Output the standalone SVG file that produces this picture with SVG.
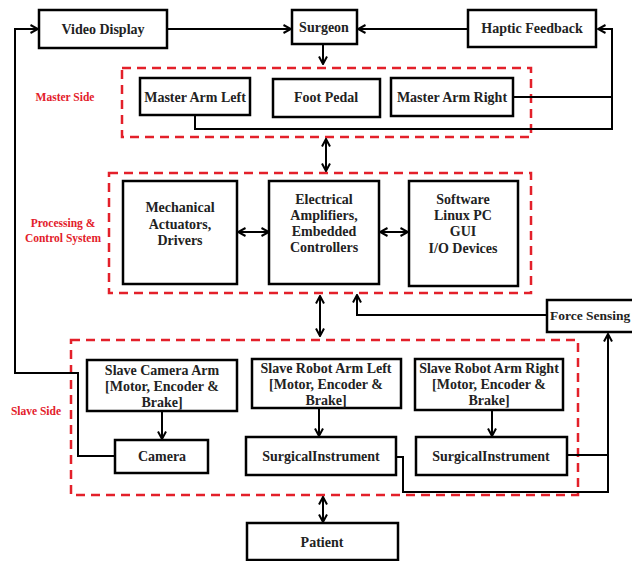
<svg xmlns="http://www.w3.org/2000/svg" width="632" height="561" viewBox="0 0 632 561">
<style>
.box{fill:#fff;stroke:#000;stroke-width:2.5}
.grp{fill:none;stroke:#e3202a;stroke-width:2.5;stroke-dasharray:9 6}
.t{font-family:"Liberation Serif","Times New Roman",serif;font-weight:bold;font-size:14px;fill:#222;text-anchor:middle}
.lbl{font-family:"Liberation Serif","Times New Roman",serif;font-weight:bold;font-size:11.5px;fill:#e3202a;text-anchor:middle}
.c{fill:none;stroke:#000;stroke-width:2}
.a{marker-end:url(#ah)}
.d{marker-start:url(#ah);marker-end:url(#ah)}
</style>
<defs>
<marker id="ah" viewBox="0 0 10 10" refX="9" refY="5" markerWidth="10" markerHeight="10" markerUnits="userSpaceOnUse" orient="auto-start-reverse">
<path d="M1.5,1 L9,5 L1.5,9" fill="none" stroke="#000" stroke-width="2"/>
</marker>
</defs>
<rect width="632" height="561" fill="#fff"/>

<g id="groups">
<rect class="grp" x="122" y="68" width="409" height="69"/>
<text class="lbl" x="65" y="101" font-size="12">Master Side</text>
<rect class="grp" x="109" y="173" width="422" height="120"/>
<text class="lbl" x="63" y="227">Processing &amp;</text>
<text class="lbl" x="63" y="242">Control System</text>
<rect class="grp" x="71" y="340" width="507" height="155"/>
<text class="lbl" x="36" y="415">Slave Side</text>
</g>

<g id="connectors">
<path class="c a" d="M167,29 H291"/>
<path class="c a" d="M468,29 H358"/>
<path class="c a" d="M323,44 V64"/>
<path class="c d" d="M326,139 V171"/>
<path class="c a" d="M513,97 H612 V29 H598"/>
<path class="c" d="M195,115 V129 H612 V97"/>
<path class="c d" d="M238,232 H269"/>
<path class="c d" d="M380,232 H408"/>
<path class="c d" d="M320,296 V336"/>
<path class="c a" d="M547,315 H357 V295"/>
<path class="c a" d="M115,456 H78 V373 H15 V29 H38"/>
<path class="c a" d="M162,411 V439"/>
<path class="c a" d="M319,408 V436"/>
<path class="c a" d="M492,410 V436"/>
<path class="c" d="M567,455 H608"/>
<path class="c a" d="M396,457 H403 V492 H608 V334"/>
<path class="c d" d="M323,497 V522"/>
</g>

<g id="video-display"><rect class="box" x="39" y="10" width="128" height="38"/><text class="t" x="103" y="34">Video Display</text></g>
<g id="surgeon"><rect class="box" x="292" y="10" width="65" height="34"/><text class="t" x="324" y="32">Surgeon</text></g>
<g id="haptic-feedback"><rect class="box" x="468" y="10" width="128" height="37"/><text class="t" x="532" y="33">Haptic Feedback</text></g>

<g id="master-arm-left"><rect class="box" x="140" y="78" width="110" height="37"/><text class="t" x="195" y="102">Master Arm Left</text></g>
<g id="foot-pedal"><rect class="box" x="273" y="79" width="107" height="38"/><text class="t" x="326" y="102">Foot Pedal</text></g>
<g id="master-arm-right"><rect class="box" x="391" y="78" width="122" height="38"/><text class="t" x="452" y="102">Master Arm Right</text></g>

<g id="mechanical"><rect class="box" x="123" y="181" width="114" height="103"/><text class="t" x="180" y="212">Mechanical</text><text class="t" x="180" y="229">Actuators,</text><text class="t" x="180" y="245">Drivers</text></g>
<g id="electrical"><rect class="box" x="269" y="181" width="110" height="103"/><text class="t" x="324" y="204">Electrical</text><text class="t" x="324" y="220">Amplifiers,</text><text class="t" x="324" y="236">Embedded</text><text class="t" x="324" y="252">Controllers</text></g>
<g id="software"><rect class="box" x="409" y="181" width="109" height="105"/><text class="t" x="463" y="204">Software</text><text class="t" x="463" y="220">Linux PC</text><text class="t" x="463" y="236">GUI</text><text class="t" x="463" y="253">I/O Devices</text></g>

<g id="force-sensing"><rect class="box" x="547" y="300" width="95" height="32"/><text class="t" x="550" y="320" style="text-anchor:start;font-size:13.5px">Force Sensing</text></g>

<g id="slave-camera-arm"><rect class="box" x="87" y="360" width="150" height="51"/><text class="t" x="162" y="375">Slave Camera Arm</text><text class="t" x="162" y="391">[Motor, Encoder &amp;</text><text class="t" x="162" y="407">Brake]</text></g>
<g id="slave-robot-arm-left"><rect class="box" x="252" y="359" width="149" height="49"/><text class="t" x="326" y="373">Slave Robot Arm Left</text><text class="t" x="326" y="389">[Motor, Encoder &amp;</text><text class="t" x="326" y="405">Brake]</text></g>
<g id="slave-robot-arm-right"><rect class="box" x="415" y="359" width="148" height="51"/><text class="t" x="489" y="373">Slave Robot Arm Right</text><text class="t" x="489" y="389">[Motor, Encoder &amp;</text><text class="t" x="489" y="405">Brake]</text></g>

<g id="camera"><rect class="box" x="115" y="440" width="93" height="33"/><text class="t" x="162" y="461">Camera</text></g>
<g id="surgical-instrument-left"><rect class="box" x="246" y="437" width="150" height="38"/><text class="t" x="321" y="461">SurgicalInstrument</text></g>
<g id="surgical-instrument-right"><rect class="box" x="416" y="437" width="151" height="38"/><text class="t" x="491" y="461">SurgicalInstrument</text></g>

<g id="patient"><rect class="box" x="247" y="523" width="151" height="37"/><text class="t" x="322" y="547">Patient</text></g>
</svg>
